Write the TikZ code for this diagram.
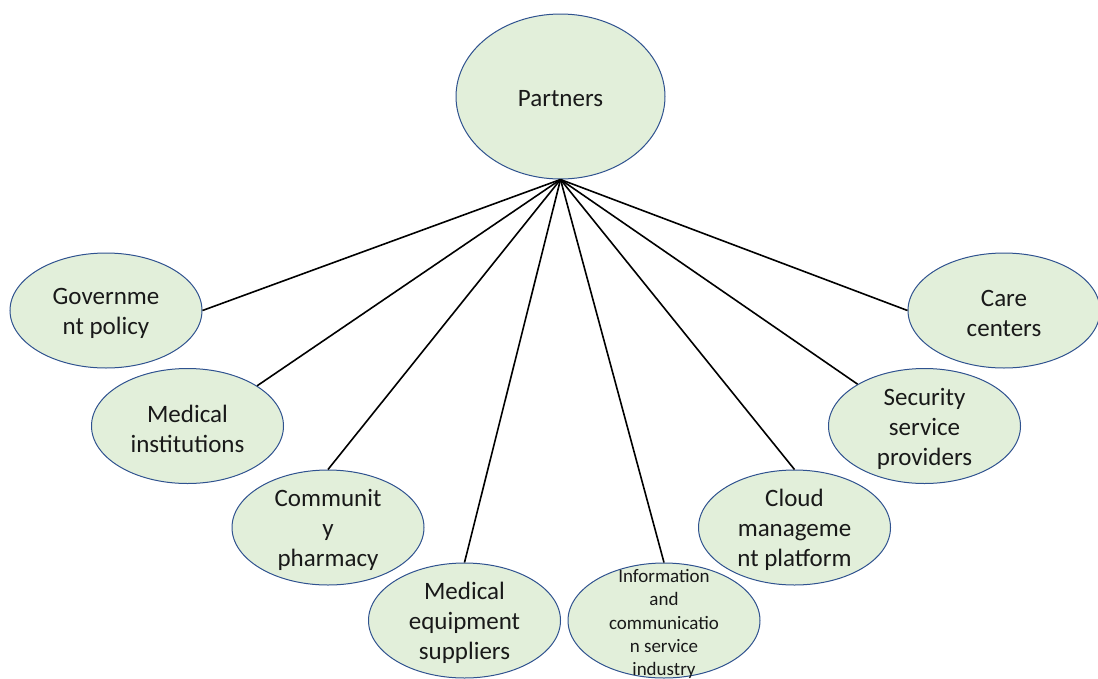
\documentclass[tikz,border=0pt]{standalone}
\usepackage{fontspec}
\setmainfont{Carlito}
\usetikzlibrary{shapes.geometric}
\definecolor{leaf}{HTML}{E2EFDA}
\definecolor{rim}{HTML}{2F528F}

\begin{document}
\begin{tikzpicture}[x=1pt, y=-1pt, every node/.style={font=\fontsize{25}{30}\selectfont},
	every label/.style={align=center, text=black!90, yshift=-2.5pt},
	partner/.style={ellipse, draw=rim, line width=1pt, fill=leaf, inner sep=0pt, minimum width=192pt, minimum height=115pt}]
	\useasboundingbox (0,0) rectangle (1098,678);
	\node[partner, minimum width=209pt, minimum height=165pt, label={center:Partners}] (p) at (560.5,96.5) {};
	\foreach \n/\x/\y/\t in {gov/106/310.5/{Governme\\nt policy}, medi/187.5/426/{Medical\\institutions}, pharm/328/527.5/{Communit\\y\\pharmacy}, equip/464.5/620.5/{Medical\\equipment\\suppliers}, cloud/794.5/527.5/{Cloud\\manageme\\nt platform}, sec/924.5/426/{Security\\service\\providers}, care/1004/310.5/{Care\\centers}} {
		\node[partner, label={center:\t}] (\n) at (\x,\y) {};
	}
	\node[partner, label={[font=\fontsize{19}{23.3}\selectfont, yshift=-1pt]center:Information\\and\\communicatio\\n service\\industry}] (info) at (664,620.5) {};
	\foreach \n/\a in {gov/east, medi/30, pharm/north, equip/north, info/north, cloud/north, sec/148, care/west} {
		\draw[line width=1.6pt] (p.south) -- (\n.\a);
	}
\end{tikzpicture}
\end{document}
